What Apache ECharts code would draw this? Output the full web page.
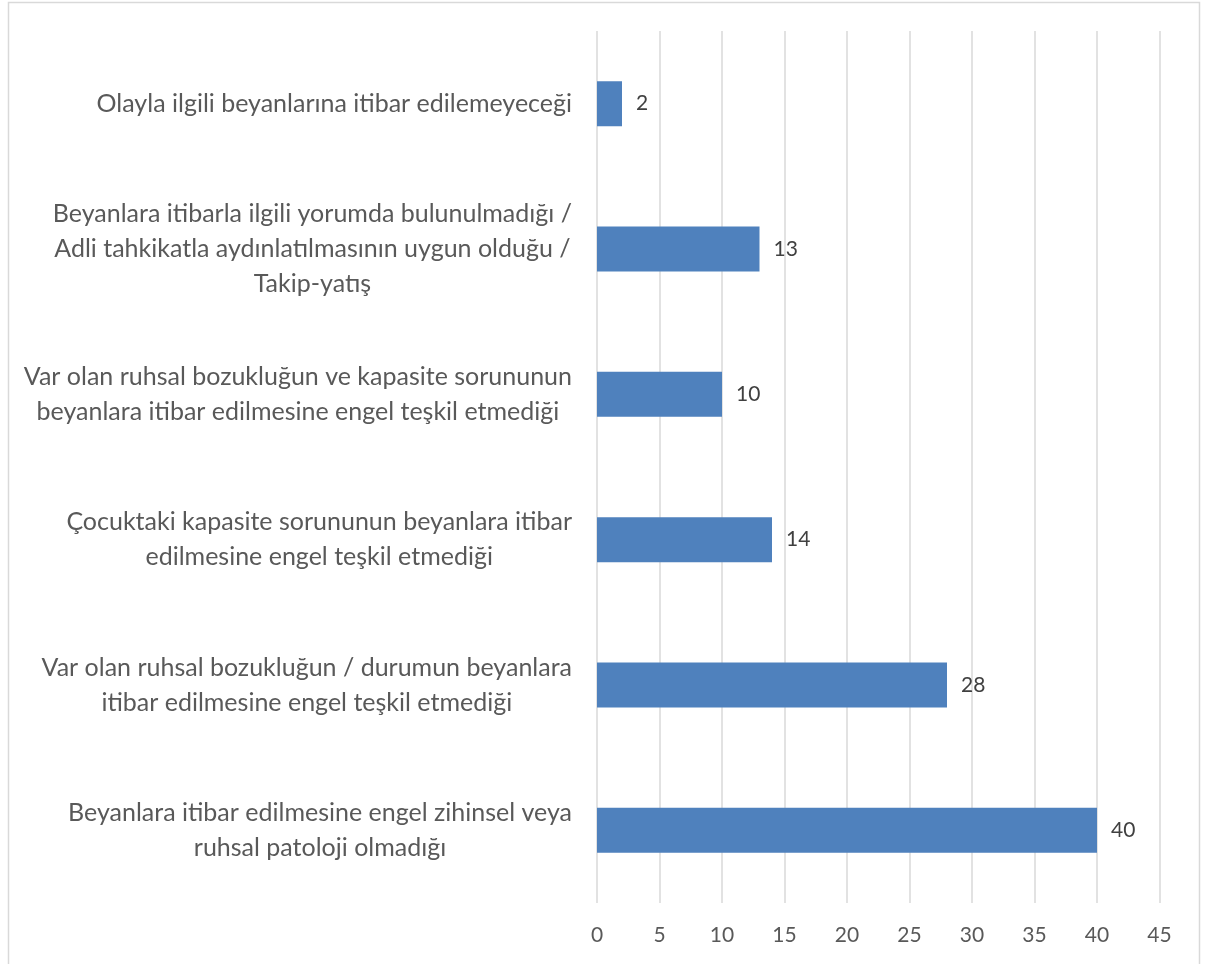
<!DOCTYPE html>
<html>
<head>
<meta charset="utf-8">
<script src="https://cdn.jsdelivr.net/npm/echarts@6/dist/echarts.min.js"></script>
<style>
html,body{margin:0;padding:0;background:#fff;}
#chart{width:1207px;height:964px;}
</style>
</head>
<body>
<div id="chart"></div>
<script>
// Categories listed top to bottom
const categories = [
  "Olayla ilgili beyanlarına itibar edilemeyeceği",
  "Beyanlara itibarla ilgili yorumda bulunulmadığı /\nAdli tahkikatla aydınlatılmasının uygun olduğu /\nTakip-yatış",
  "Var olan ruhsal bozukluğun ve kapasite sorununun\nbeyanlara itibar edilmesine engel teşkil etmediği",
  "Çocuktaki kapasite sorununun beyanlara itibar\nedilmesine engel teşkil etmediği",
  "Var olan ruhsal bozukluğun / durumun beyanlara\nitibar edilmesine engel teşkil etmediği",
  "Beyanlara itibar edilmesine engel zihinsel veya\nruhsal patoloji olmadığı"
];
const values = [2, 13, 10, 14, 28, 40];
const xTicks = { min: 0, max: 45, interval: 5 };

const FONT = "Lato, 'Open Sans', sans-serif";
const TXT = '#595959';
const CAT_SIZE = 25;
const NUM_SIZE = 21;

const chart = echarts.init(document.getElementById('chart'), null, { renderer: 'canvas' });
chart.setOption({
  animation: false,
  backgroundColor: '#ffffff',
  graphic: [{
    type: 'rect',
    shape: { x: 8.5, y: 2.5, width: 1191, height: 1100 },
    style: { fill: 'none', stroke: '#d9d9d9', lineWidth: 1.5 },
    silent: true
  }],
  grid: { left: 597, right: 47.5, top: 31, bottom: 61, containLabel: false },
  xAxis: {
    type: 'value',
    min: xTicks.min, max: xTicks.max, interval: xTicks.interval,
    axisLine: { show: false },
    axisTick: { show: false },
    axisLabel: { color: TXT, fontFamily: FONT, fontSize: NUM_SIZE, margin: 22 },
    splitLine: { show: true, lineStyle: { color: '#d9d9d9', width: 1.5 } }
  },
  yAxis: {
    type: 'category',
    inverse: true,
    data: categories,
    axisLine: { show: false },
    axisTick: { show: false },
    axisLabel: {
      margin: 25,
      color: TXT,
      fontFamily: FONT,
      fontSize: CAT_SIZE,
      lineHeight: 35,
      align: 'right',
      formatter: function (v) {
        return v.split('\n').map(function (s) { return '{c|' + s + '}'; }).join('\n');
      },
      rich: {
        c: { align: 'center', color: TXT, fontFamily: FONT, fontSize: CAT_SIZE, lineHeight: 35 }
      }
    }
  },
  series: [{
    type: 'bar',
    data: values,
    barWidth: 45,
    itemStyle: { color: '#4f81bd' },
    label: {
      show: true,
      position: 'right',
      distance: 14,
      color: '#404040',
      fontFamily: FONT,
      fontSize: NUM_SIZE
    }
  }]
});
</script>
</body>
</html>
